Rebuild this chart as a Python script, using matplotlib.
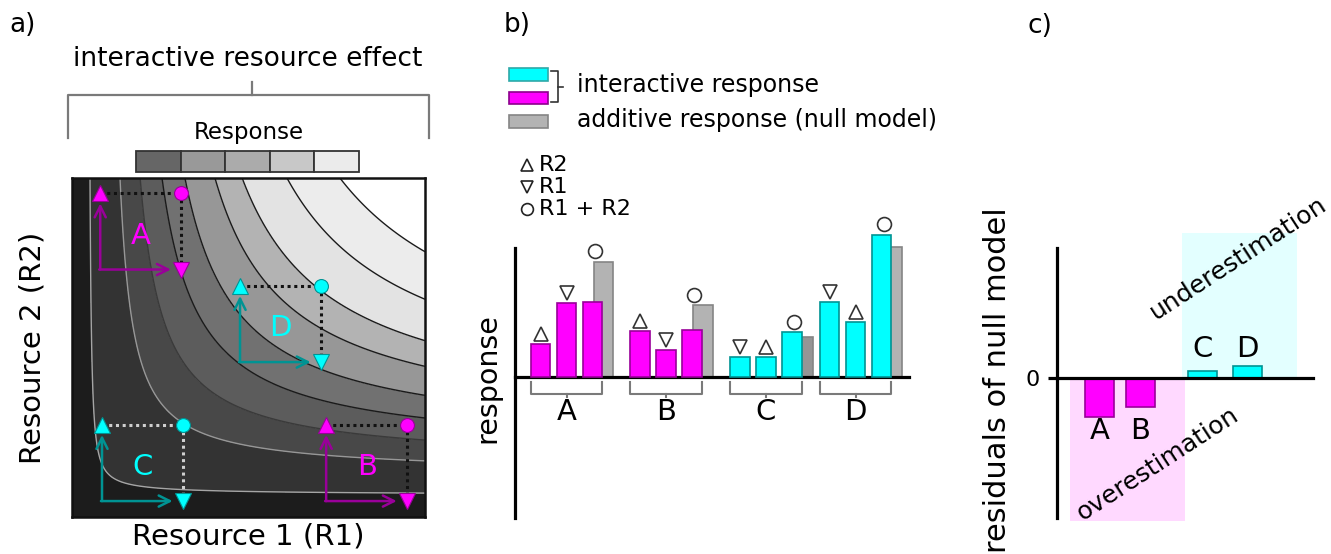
import matplotlib
matplotlib.use('Agg')
import matplotlib.pyplot as plt
import numpy as np
from matplotlib.patches import Rectangle
from matplotlib.lines import Line2D

plt.rcParams['font.family'] = ['DejaVu Sans']

W, H = 1331, 554
fig = plt.figure(figsize=(W / 100, H / 100), dpi=100)


def fx(x):
    return x / W


def fy(y):
    return 1 - y / H


def box(x0, y0, x1, y1):
    return [fx(x0), fy(y1), (x1 - x0) / W, (y1 - y0) / H]


# ---------------- data ----------------
# panel a: response surface (contour crossings of the top edge, fraction of R1 axis)
contour_top_crossings = [0.051, 0.136, 0.193, 0.255, 0.32, 0.405, 0.482, 0.609, 0.759]
band_colors = ['#1c1c1c', '#333333', '#484848', '#5c5c5c', '#717171',
               '#979797', '#b3b3b3', '#e3e3e3', '#ececec', '#ffffff']
line_colors = ['#a5a5a5', '#979797', '#3a3a3a', '#1a1a1a', '#1a1a1a',
               '#1a1a1a', '#1a1a1a', '#1a1a1a', '#1a1a1a']
scenarios = ['A', 'B', 'C', 'D']
base_r1 = [0.08, 0.72, 0.085, 0.476]
base_r2 = [0.73, 0.047, 0.047, 0.457]
step_r1 = 0.23
step_r2 = 0.225
response_scale_colors = ['#666666', '#999999', '#ababab', '#c8c8c8', '#ebebeb']

# panel b: responses
groups = ['A', 'B', 'C', 'D']
bar_values = [[3.3, 7.4, 7.5], [4.6, 2.7, 4.7], [2.0, 2.0, 4.5], [7.5, 5.5, 14.2]]
bar_markers = [['^', 'v'], ['^', 'v'], ['v', '^'], ['v', '^']]
additive_values = [11.5, 7.2, 4.0, 13.0]

# panel c: residuals of null model
residuals = [-3.9, -2.9, 0.7, 1.17]

# ---------------- styles ----------------
MAG, CYA = '#ff00ff', '#00ffff'
MAG_D, CYA_D = '#990099', '#009393'
fill_cols = [MAG, MAG, CYA, CYA]
dark_cols = [MAG_D, MAG_D, CYA_D, CYA_D]
dot_cols = ['#111111', '#111111', '#cfcfcf', '#111111']
gray_cols = ['#b3b3b3', '#b3b3b3', '#959595', '#b3b3b3']

# ================= panel a =================
ax_a = fig.add_axes(box(72, 178, 425, 517))
u = np.linspace(0, 1, 700)
v = np.linspace(0, 1, 700)
U, V = np.meshgrid(u, v)
a0, b0, sv, n = 0.025, 0.04, 0.82, 0.5


def surface(r1, r2):
    r1 = np.clip(np.asarray(r1, float) - a0, 1e-9, None)
    r2 = np.clip(sv * (np.asarray(r2, float) - b0), 1e-9, None)
    return (r1 ** -n + r2 ** -n) ** (-1 / n)


F = surface(U, V)
levels = [float(surface(t, 1.0)) for t in contour_top_crossings]
ax_a.contourf(U, V, F, levels=[-1] + levels + [10], colors=band_colors)
ax_a.contour(U, V, F, levels=levels, colors=line_colors, linewidths=1.0)
ax_a.set_xlim(0, 1)
ax_a.set_ylim(0, 1)
ax_a.set_xticks([])
ax_a.set_yticks([])
for s in ax_a.spines.values():
    s.set_linewidth(1.8)
    s.set_color('#111111')

for i, name in enumerate(scenarios):
    x0, y0 = base_r1[i], base_r2[i]
    x1, y1 = x0 + step_r1, y0 + step_r2
    ax_a.plot([x0, x1], [y1, y1], ls=(0, (1, 1.2)), lw=2.2, color=dot_cols[i], zorder=4)
    ax_a.plot([x1, x1], [y1, y0], ls=(0, (1, 1.2)), lw=2.2, color=dot_cols[i], zorder=4)
    ax_a.annotate('', xy=(x0, y1 - 0.03), xytext=(x0, y0),
                  arrowprops=dict(arrowstyle='->', color=dark_cols[i], lw=1.8,
                                  mutation_scale=20, shrinkA=0, shrinkB=0), zorder=5)
    ax_a.annotate('', xy=(x1 - 0.03, y0), xytext=(x0 - 0.003, y0),
                  arrowprops=dict(arrowstyle='->', color=dark_cols[i], lw=1.8,
                                  mutation_scale=20, shrinkA=0, shrinkB=0), zorder=5)
    ax_a.plot(x0, y1, marker='^', ms=11, color=fill_cols[i], mec=dark_cols[i], mew=0.8, zorder=6)
    ax_a.plot(x1, y0, marker='v', ms=11, color=fill_cols[i], mec=dark_cols[i], mew=0.8, zorder=6)
    ax_a.plot(x1, y1, marker='o', ms=10, color=fill_cols[i], mec=dark_cols[i], mew=0.8, zorder=6)
    ax_a.text(x0 + 0.115, y0 + 0.10, name, color=fill_cols[i], fontsize=21,
              ha='center', va='center', zorder=6)

fig.text(fx(23), fy(25), 'a)', fontsize=19, ha='center', va='center')
fig.text(fx(248), fy(59), 'interactive resource effect', fontsize=19, ha='center', va='center')
fig.add_artist(Line2D([fx(68), fx(68), fx(429), fx(429)], [fy(138), fy(95), fy(95), fy(138)],
                      color='#7a7a7a', lw=1.6))
fig.add_artist(Line2D([fx(252), fx(252)], [fy(95), fy(82)], color='#7a7a7a', lw=1.6))
fig.text(fx(249), fy(132), 'Response', fontsize=16.5, ha='center', va='center')
cb_w = (359 - 136) / len(response_scale_colors)
for k, c in enumerate(response_scale_colors):
    fig.add_artist(Rectangle((fx(136 + k * cb_w), fy(172)), cb_w / W, 21 / H,
                             transform=fig.transFigure, fc=c, ec='#333333', lw=1.3))
fig.text(fx(33), fy(348), 'Resource 2 (R2)', fontsize=21, rotation=90, ha='center', va='center')
fig.text(fx(248), fy(536), 'Resource 1 (R1)', fontsize=21, ha='center', va='center')

# ================= panel b =================
ax_b = fig.add_axes(box(515, 248, 909, 518))
ax_b.set_xlim(0, 394)
ax_b.set_ylim(-14.1, 12.9)
group_first = [25.7, 125, 225, 314.5]
bar_step, bw, gray_off = 26, 19.5, 11
for gi, name in enumerate(groups):
    xs = [group_first[gi] + k * bar_step for k in range(3)]
    vals = bar_values[gi]
    ax_b.bar(xs[2] + gray_off, additive_values[gi], width=bw, color=gray_cols[gi],
             edgecolor='#858585', lw=1.2, zorder=2, clip_on=False)
    ax_b.bar(xs, vals, width=bw, color=fill_cols[gi], edgecolor=dark_cols[gi],
             lw=1.2, zorder=3, clip_on=False)
    for k in range(2):
        ax_b.plot(xs[k], vals[k] + 1.0, marker=bar_markers[gi][k], ms=10, mfc='none',
                  mec='#333333', mew=1.2, clip_on=False, zorder=4)
    ax_b.plot(xs[2] + 2, max(vals[2], additive_values[gi]) + 1.05, marker='o', ms=10,
              mfc='none', mec='#333333', mew=1.2, clip_on=False, zorder=4)
    left, right = xs[0] - bw / 2, xs[2] + bw / 2
    mid = (left + right) / 2
    ax_b.plot([left, left, right, right], [-0.5, -1.7, -1.7, -0.5], color='#7a7a7a',
              lw=1.5, clip_on=False)
    ax_b.plot([mid, mid], [-1.7, -2.0], color='#7a7a7a', lw=1.5, clip_on=False)
    ax_b.text(mid, -3.45, name, fontsize=21, ha='center', va='center')
for s in ['top', 'right']:
    ax_b.spines[s].set_visible(False)
ax_b.spines['left'].set_linewidth(2.3)
ax_b.spines['bottom'].set_linewidth(2.3)
ax_b.spines['bottom'].set_position(('data', 0))
ax_b.set_xticks([])
ax_b.set_yticks([])
ax_b.patch.set_visible(False)

fig.text(fx(517), fy(25), 'b)', fontsize=19, ha='center', va='center')
fig.text(fx(487), fy(378), 'response', fontsize=20.5, rotation=90, ha='center', va='center')
# legend
for (y0, y1), fc, ec in [((68.3, 80.7), CYA, '#2fa8a8'), ((91.7, 104.3), MAG, '#8c008c'),
                         ((115, 128.3), '#b3b3b3', '#858585')]:
    fig.add_artist(Rectangle((fx(509.3), fy(y1)), 39 / W, (y1 - y0) / H,
                             transform=fig.transFigure, fc=fc, ec=ec, lw=1.2))
fig.add_artist(Line2D([fx(551), fx(558), fx(558), fx(551)],
                      [fy(70.7), fy(70.7), fy(101.7), fy(101.7)], color='#333333', lw=1.2))
fig.add_artist(Line2D([fx(558), fx(563)], [fy(86.5), fy(86.5)], color='#333333', lw=1.2))
fig.text(fx(577), fy(85), 'interactive response', fontsize=17, va='center')
fig.text(fx(577), fy(120), 'additive response (null model)', fontsize=17, va='center')
for yy, mk, lab in [(165, '^', 'R2'), (186.7, 'v', 'R1'), (209.3, 'o', 'R1 + R2')]:
    fig.add_artist(Line2D([fx(526.7)], [fy(yy)], marker=mk, ms=8.5, mfc='none',
                          mec='#222222', mew=1.2, ls='none'))
    fig.text(fx(539), fy(yy), lab, fontsize=16, va='center')

# ================= panel c =================
ax_c = fig.add_axes(box(1057, 248, 1313, 518))
ax_c.set_xlim(0, 256)
ax_c.set_ylim(-14.03, 12.97)
ax_c.add_patch(Rectangle((13, -14.3), 115, 14.3, fc='#ffd9ff', ec='none', zorder=0, clip_on=False))
ax_c.add_patch(Rectangle((125, 0), 115, 14.47, fc='#e3ffff', ec='none', zorder=0, clip_on=False))
res_x = [42.5, 83.5, 145.5, 190.2]
ax_c.bar(res_x, residuals, width=29, color=fill_cols, edgecolor=dark_cols, lw=1.2, zorder=3)
for k, name in enumerate(groups):
    yy = -5.3 if residuals[k] < 0 else 2.87
    ax_c.text(res_x[k], yy, name, fontsize=21, ha='center', va='center')
for s in ['top', 'right']:
    ax_c.spines[s].set_visible(False)
ax_c.spines['left'].set_linewidth(2.3)
ax_c.spines['bottom'].set_linewidth(2.3)
ax_c.spines['bottom'].set_position(('data', 0))
ax_c.spines['left'].set_zorder(5)
ax_c.spines['bottom'].set_zorder(5)
ax_c.set_xticks([])
ax_c.set_yticks([0])
ax_c.tick_params(axis='y', length=6.5, width=2.3, labelsize=16, pad=6)
ax_c.patch.set_visible(False)

fig.text(fx(1040), fy(26), 'c)', fontsize=19, ha='center', va='center')
fig.text(fx(997), fy(380), 'residuals of null model', fontsize=22, rotation=90,
         ha='center', va='center')
fig.text(fx(1238), fy(258), 'underestimation', fontsize=18, rotation=33,
         ha='center', va='center', rotation_mode='anchor')
fig.text(fx(1158), fy(464), 'overestimation', fontsize=18, rotation=33,
         ha='center', va='center', rotation_mode='anchor')

fig.savefig('out.png', dpi=100)
